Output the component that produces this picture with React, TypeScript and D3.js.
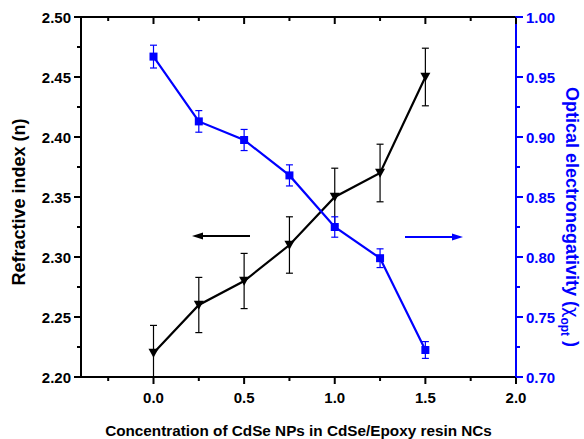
import React from "react";
import * as d3 from "d3";

const concentrations = [0, 0.25, 0.5, 0.75, 1.0, 1.25, 1.5];
const refractiveIndex = [2.22, 2.26, 2.28, 2.31, 2.35, 2.37, 2.45];
const refractiveErr = [0.023, 0.023, 0.023, 0.0235, 0.024, 0.024, 0.024];
const electronegativity = [0.967, 0.913, 0.8975, 0.868, 0.825, 0.799, 0.7225];
const electroErr = [0.0095, 0.009, 0.0088, 0.0088, 0.0085, 0.0078, 0.007];
const xTicks = [0, 0.5, 1.0, 1.5, 2.0];
const xMinor = [-0.25, 0.25, 0.75, 1.25, 1.75];
const leftTicks = [2.2, 2.25, 2.3, 2.35, 2.4, 2.45, 2.5];
const leftMinor = [2.225, 2.275, 2.325, 2.375, 2.425, 2.475];
const rightTicks = [0.7, 0.75, 0.8, 0.85, 0.9, 0.95, 1.0];
const rightMinor = [0.725, 0.775, 0.825, 0.875, 0.925, 0.975];

const BLUE = "#0000ff";
const FONT = "'Liberation Sans', Arial, sans-serif";

export default function App() {
  const W = 584, H = 439;
  const L = 81, R = 516, T = 17, B = 377;
  const x = d3.scaleLinear().domain([-0.4, 2.0]).range([L, R]);
  const yL = d3.scaleLinear().domain([2.2, 2.5]).range([B, T]);
  const yR = d3.scaleLinear().domain([0.7, 1.0]).range([B, T]);

  const lineL = d3.line<number>().x((_, i) => x(concentrations[i])).y((d) => yL(d));
  const lineR = d3.line<number>().x((_, i) => x(concentrations[i])).y((d) => yR(d));

  const tri = (cx: number, cy: number) => {
    const s = 5;
    return `M${cx - s},${cy - s * 0.85} L${cx + s},${cy - s * 0.85} L${cx},${cy + s * 0.95} Z`;
  };

  return (
    <svg width={W} height={H} style={{ position: "absolute", left: 0, top: 0 }} fontFamily={FONT}>
      <rect width={W} height={H} fill="#fff" />
      <defs>
        <clipPath id="clip">
          <rect x={L} y={T - 2} width={R - L} height={B - T + 2} />
        </clipPath>
      </defs>
      <g clipPath="url(#clip)">
        {refractiveIndex.map((v, i) => {
          const cx = x(concentrations[i]);
          const y1 = yL(v + refractiveErr[i]);
          const y2 = Math.min(yL(v - refractiveErr[i]), B);
          return (
            <g key={"eb" + i} stroke="#000" strokeWidth={1.2}>
              <line x1={cx} x2={cx} y1={y1} y2={y2} />
              <line x1={cx - 3.5} x2={cx + 3.5} y1={y1} y2={y1} />
              {yL(v - refractiveErr[i]) <= B && <line x1={cx - 3.5} x2={cx + 3.5} y1={y2} y2={y2} />}
            </g>
          );
        })}
        {electronegativity.map((v, i) => {
          const cx = x(concentrations[i]);
          const y1 = yR(v + electroErr[i]);
          const y2 = yR(v - electroErr[i]);
          return (
            <g key={"ebr" + i} stroke={BLUE} strokeWidth={1.2}>
              <line x1={cx} x2={cx} y1={y1} y2={y2} />
              <line x1={cx - 3.5} x2={cx + 3.5} y1={y1} y2={y1} />
              <line x1={cx - 3.5} x2={cx + 3.5} y1={y2} y2={y2} />
            </g>
          );
        })}
        <path d={lineL(refractiveIndex) || ""} fill="none" stroke="#000" strokeWidth={2.2} />
        <path d={lineR(electronegativity) || ""} fill="none" stroke={BLUE} strokeWidth={2.2} />
        {refractiveIndex.map((v, i) => (
          <path key={"m" + i} d={tri(x(concentrations[i]), yL(v))} fill="#000" />
        ))}
        {electronegativity.map((v, i) => (
          <rect key={"s" + i} x={x(concentrations[i]) - 4} y={yR(v) - 4} width={8} height={8} fill={BLUE} />
        ))}
      </g>

      {/* arrows */}
      <line x1={250} x2={198} y1={236} y2={236} stroke="#000" strokeWidth={2} />
      <path d="M192,236 L203,232.5 L203,239.5 Z" fill="#000" />
      <line x1={405} x2={456} y1={237} y2={237} stroke={BLUE} strokeWidth={2} />
      <path d="M463,237 L452,233.5 L452,240.5 Z" fill={BLUE} />

      {/* axes lines */}
      <line x1={L} x2={R} y1={T} y2={T} stroke="#000" strokeWidth={2} />
      <line x1={L} x2={R} y1={B} y2={B} stroke="#000" strokeWidth={2} />
      <line x1={L} x2={L} y1={T} y2={B} stroke="#000" strokeWidth={2} />
      <line x1={R} x2={R} y1={T - 1} y2={B + 1} stroke={BLUE} strokeWidth={2} />

      {xTicks.map((t) => (
        <g key={"xt" + t}>
          <line x1={x(t)} x2={x(t)} y1={B} y2={B + 7} stroke="#000" strokeWidth={2} />
          <line x1={x(t)} x2={x(t)} y1={T} y2={T + 7} stroke="#000" strokeWidth={2} />
          <text x={x(t)} y={403} textAnchor="middle" fontSize={15} fontWeight="bold" fill="#000">
            {t.toFixed(1)}
          </text>
        </g>
      ))}
      {xMinor.map((t) => (
        <g key={"xm" + t}>
          <line x1={x(t)} x2={x(t)} y1={B} y2={B + 4} stroke="#000" strokeWidth={2} />
          <line x1={x(t)} x2={x(t)} y1={T} y2={T + 4} stroke="#000" strokeWidth={2} />
        </g>
      ))}
      {leftTicks.map((t) => (
        <g key={"lt" + t}>
          <line x1={L - 7} x2={L} y1={yL(t)} y2={yL(t)} stroke="#000" strokeWidth={2} />
          <text x={71} y={yL(t) + 5.5} textAnchor="end" fontSize={15} fontWeight="bold" fill="#000">
            {t.toFixed(2)}
          </text>
        </g>
      ))}
      {leftMinor.map((t) => (
        <line key={"lm" + t} x1={L - 4} x2={L} y1={yL(t)} y2={yL(t)} stroke="#000" strokeWidth={2} />
      ))}
      {rightTicks.map((t) => (
        <g key={"rt" + t}>
          <line x1={R} x2={R + 7} y1={yR(t)} y2={yR(t)} stroke={BLUE} strokeWidth={2} />
          <text x={526} y={yR(t) + 5.5} textAnchor="start" fontSize={15} fontWeight="bold" fill={BLUE}>
            {t.toFixed(2)}
          </text>
        </g>
      ))}
      {rightMinor.map((t) => (
        <line key={"rm" + t} x1={R} x2={R + 4} y1={yR(t)} y2={yR(t)} stroke={BLUE} strokeWidth={2} />
      ))}

      <text x={(L + R) / 2} y={436} textAnchor="middle" fontSize={15.3} fontWeight="bold" fill="#000">
        Concentration of CdSe NPs in CdSe/Epoxy resin NCs
      </text>
      <text
        transform="translate(25,202) rotate(-90)"
        textAnchor="middle"
        fontSize={18}
        fontWeight="bold"
        fill="#000"
      >
        Refractive index (n)
      </text>
      <text
        transform="translate(566,217) rotate(90)"
        textAnchor="middle"
        fontSize={18}
        fontWeight="bold"
        fill={BLUE}
      >
        Optical electronegativity (
        <tspan fontFamily="'DejaVu Sans', sans-serif" fontWeight="normal">χ</tspan>
        <tspan fontSize={12} dy={5}>opt</tspan>
        <tspan dy={-5}> )</tspan>
      </text>
    </svg>
  );
}
